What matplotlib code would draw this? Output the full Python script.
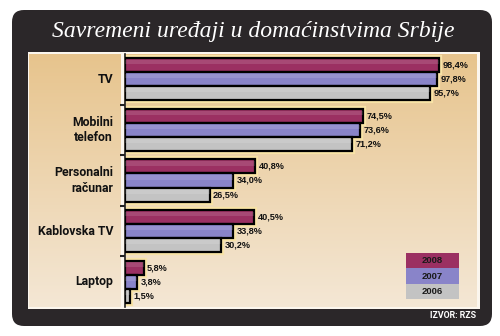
import numpy as np
import matplotlib.pyplot as plt
from matplotlib.patches import FancyBboxPatch, Rectangle

categories = ['TV', 'Mobilni\ntelefon', 'Personalni\nračunar', 'Kablovska TV', 'Laptop']
years = ['2008', '2007', '2006']
v2008 = [98.4, 74.5, 40.8, 40.5, 5.8]
v2007 = [97.8, 73.6, 34.0, 33.8, 3.8]
v2006 = [95.7, 71.2, 26.5, 30.2, 1.5]
colors = ['#9b3062', '#8984c9', '#c3c3c3']

W, H = 500, 336
fig = plt.figure(figsize=(W / 100, H / 100), dpi=100)
fig.patch.set_facecolor('white')

# pixel-space canvas for the frame and backgrounds
bg = fig.add_axes([0, 0, 1, 1])
bg.set_xlim(0, W)
bg.set_ylim(H, 0)
bg.axis('off')

frame = FancyBboxPatch((12, 10), 480, 316, boxstyle='round,pad=0,rounding_size=12',
                       fc='#2b2729', ec='none')
bg.add_patch(frame)

bg.text(253, 32, 'Savremeni uređaji u domaćinstvima Srbije', color='white',
        fontsize=17, family='Liberation Serif', style='italic',
        ha='center', va='center')

# inner panel with white border
bg.add_patch(Rectangle((28, 52), 452, 257, fc='#fbf6ee', ec='none'))
grad = np.linspace(0, 1, 256).reshape(-1, 1)
top = np.array([0.906, 0.769, 0.553])
bot = np.array([0.957, 0.906, 0.835])
img = top + (bot - top) * grad[..., None]
bg.imshow(img, extent=(29, 121, 307, 54), aspect='auto', zorder=2)
bg.imshow(img, extent=(124, 477, 307, 54), aspect='auto', zorder=2)

bg.text(476, 316, 'IZVOR: RZS', color='white', fontsize=6.3, fontweight='bold',
        family='Roboto', ha='right', va='center')

# bars
ax = fig.add_axes([125 / W, 1 - 307 / H, (477 - 125) / W, (307 - 54) / H])
ax.patch.set_alpha(0)
ax.set_xlim(0, (477 - 125) / 3.19)
ax.set_ylim(4.5, -0.5)
bh = 0.277
y = np.arange(len(categories))
for k, vals in enumerate([v2008, v2007, v2006]):
    pos = y + (k - 1) * bh
    # pale glow behind each bar
    ax.barh(pos, vals, height=bh, color='#f8e3a6', edgecolor='#f8e3a6', linewidth=4.5,
            zorder=2)
    ax.barh(pos, vals, height=bh, color=colors[k], edgecolor='black', linewidth=1.6,
            zorder=3)
    # light sheen on the upper part of the bar
    ax.barh(pos - bh * 0.22, vals, height=bh * 0.3, color='white', alpha=0.12,
            linewidth=0, zorder=4)
    for p, v in zip(pos, vals):
        ax.text(v + 1.1, p, f'{v:.1f}%'.replace('.', ','), va='center', ha='left',
                fontsize=6.6, fontweight='bold', family='Liberation Sans',
                color='#111111', zorder=5)

for s in ['top', 'right', 'bottom']:
    ax.spines[s].set_visible(False)
ax.spines['left'].set_linewidth(1.2)
ax.spines['left'].set_color('#222222')
ax.set_xticks([])
ax.set_yticks(np.arange(0.5, 4.5, 1))
ax.set_yticklabels([])
ax.tick_params(axis='y', length=3.5, width=1.5, color='#222222')

for i, c in enumerate(categories):
    bg.text(113, 54 + (i + 0.5) * 50.6, c, ha='right', va='center', fontsize=8.8,
            fontweight='bold', family='Roboto',
            color='#111111', linespacing=1.25, zorder=4, multialignment='right')

# legend block
for k, yr in enumerate(years):
    y0 = 253 + k * 15.3
    bg.add_patch(Rectangle((406, y0), 53, 15.3, fc=colors[k], ec='none', zorder=4))
    bg.text(432.5, y0 + 7.8, yr, ha='center', va='center', fontsize=6.8,
            fontweight='bold', family='Liberation Sans', color='#1a1a1a', zorder=5)

fig.savefig('out.png', dpi=100)
